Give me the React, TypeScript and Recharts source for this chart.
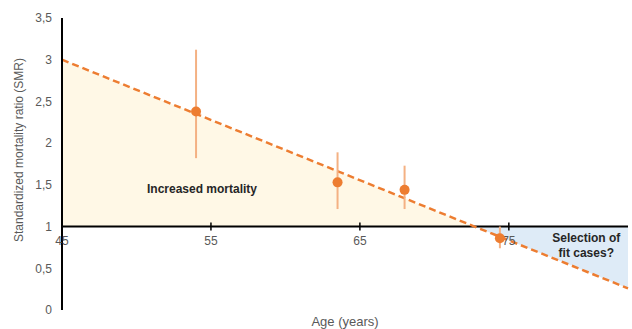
import React from 'react';
import {
  ComposedChart,
  Line,
  Area,
  Scatter,
  ErrorBar,
  XAxis,
  YAxis,
  ReferenceLine,
  ReferenceDot,
} from 'recharts';

// Trend line (dashed) and the shaded regions between it and SMR = 1
const trendAges = [45, 72.7, 83];
const trendValues = [3.0, 1.0, 0.26];
const yellowBands: (number[] | null)[] = [[1, 3.0], [1, 1], null];
const blueBands: (number[] | null)[] = [null, [1, 1], [0.26, 1]];

// Observed SMR points with confidence intervals
const pointAges = [54.0, 63.5, 68.0, 74.4];
const pointSMR = [2.38, 1.53, 1.44, 0.86];
const pointLow = [1.82, 1.21, 1.21, 0.74];
const pointHigh = [3.12, 1.89, 1.73, 1.0];

const xTicks = [45, 55, 65, 75];
const yTicks = [0, 0.5, 1, 1.5, 2, 2.5, 3, 3.5];

const chartData = trendAges.map((age, i) => ({
  age,
  trend: trendValues[i],
  yellow: yellowBands[i],
  blue: blueBands[i],
}));

const scatterData = pointAges.map((age, i) => ({
  age,
  smr: pointSMR[i],
  err: [pointSMR[i] - pointLow[i], pointHigh[i] - pointSMR[i]],
}));

const FONT = '"Liberation Sans", Arial, sans-serif';
const GRAY = '#595959';
const ORANGE = '#ED7D31';

const YLabel = (props: any) => {
  const vb = props.viewBox || { x: 0, y: 0, width: 0, height: 0 };
  const cx = vb.x + 19;
  const cy = vb.y + vb.height / 2 - 14;
  return (
    <text
      x={cx}
      y={cy}
      transform={`rotate(-90, ${cx}, ${cy})`}
      textAnchor="middle"
      dominantBaseline="central"
      fill={GRAY}
      fontSize={12}
      fontFamily={FONT}
    >
      Standardized mortality ratio (SMR)
    </text>
  );
};

const XLabel = (props: any) => {
  const vb = props.viewBox || { x: 0, y: 0, width: 0, height: 0 };
  return (
    <text
      x={vb.x + vb.width / 2}
      y={vb.y + 11}
      textAnchor="middle"
      dominantBaseline="central"
      fill={GRAY}
      fontSize={13}
      fontFamily={FONT}
    >
      Age (years)
    </text>
  );
};

const renderTick = (p: any, label: number) => (
  <g>
    <line x1={p.cx} x2={p.cx} y1={p.cy - 4} y2={p.cy + 4} stroke="#000" strokeWidth={1.5} />
    <text
      x={p.cx}
      y={p.cy + 14}
      textAnchor="middle"
      dominantBaseline="central"
      fill={GRAY}
      fontSize={12}
      fontFamily={FONT}
    >
      {label}
    </text>
  </g>
);

const renderIncreased = (p: any) => (
  <text
    x={p.cx}
    y={p.cy}
    textAnchor="middle"
    dominantBaseline="central"
    fill="#262626"
    fontSize={12}
    fontWeight="bold"
    fontFamily={FONT}
  >
    Increased mortality
  </text>
);

const renderSelection = (p: any) => (
  <text
    x={p.cx}
    y={p.cy}
    textAnchor="middle"
    fill="#262626"
    fontSize={12}
    fontWeight="bold"
    fontFamily={FONT}
  >
    <tspan x={p.cx} dy={-3}>Selection of</tspan>
    <tspan x={p.cx} dy={15}>fit cases?</tspan>
  </text>
);

export default function App() {
  return (
    <div style={{ position: 'absolute', left: 0, top: 0 }}>
      <ComposedChart
        width={632}
        height={329}
        data={chartData}
        margin={{ top: 18, right: 4, bottom: 0, left: 0 }}
      >
        <XAxis
          dataKey="age"
          type="number"
          domain={[45, 83]}
          ticks={xTicks}
          axisLine={false}
          tickLine={false}
          tick={false}
          height={19}
          label={<XLabel />}
        />
        <YAxis
          type="number"
          domain={[0, 3.5]}
          ticks={yTicks}
          width={62}
          axisLine={{ stroke: '#000', strokeWidth: 2 }}
          tickLine={false}
          tickMargin={4}
          tick={{ fill: GRAY, fontSize: 12, fontFamily: FONT }}
          tickFormatter={(v: number) => String(v).replace('.', ',')}
          label={<YLabel />}
        />
        <Area
          dataKey="yellow"
          stroke="none"
          fill="#FFF8E6"
          fillOpacity={1}
          isAnimationActive={false}
          connectNulls={false}
        />
        <Area
          dataKey="blue"
          stroke="none"
          fill="#DEEBF7"
          fillOpacity={1}
          isAnimationActive={false}
          connectNulls={false}
        />
        <ReferenceLine y={1} stroke="#000" strokeWidth={2} />
        {xTicks.map((t) => (
          <ReferenceDot key={t} x={t} y={1} r={0} shape={(p: any) => renderTick(p, t)} />
        ))}
        <Line
          dataKey="trend"
          stroke={ORANGE}
          strokeWidth={2.5}
          strokeDasharray="7 4"
          dot={false}
          activeDot={false}
          isAnimationActive={false}
        />
        <Scatter data={scatterData} dataKey="smr" fill={ORANGE} isAnimationActive={false} shape={(p: any) => <circle cx={p.cx} cy={p.cy} r={5} fill={ORANGE} />}>
          <ErrorBar dataKey="err" direction="y" width={0} stroke="#F4B183" strokeWidth={2} />
        </Scatter>
        <ReferenceDot x={54.4} y={1.45} r={0} shape={renderIncreased} />
        <ReferenceDot x={80.2} y={0.785} r={0} shape={renderSelection} />
      </ComposedChart>
    </div>
  );
}
